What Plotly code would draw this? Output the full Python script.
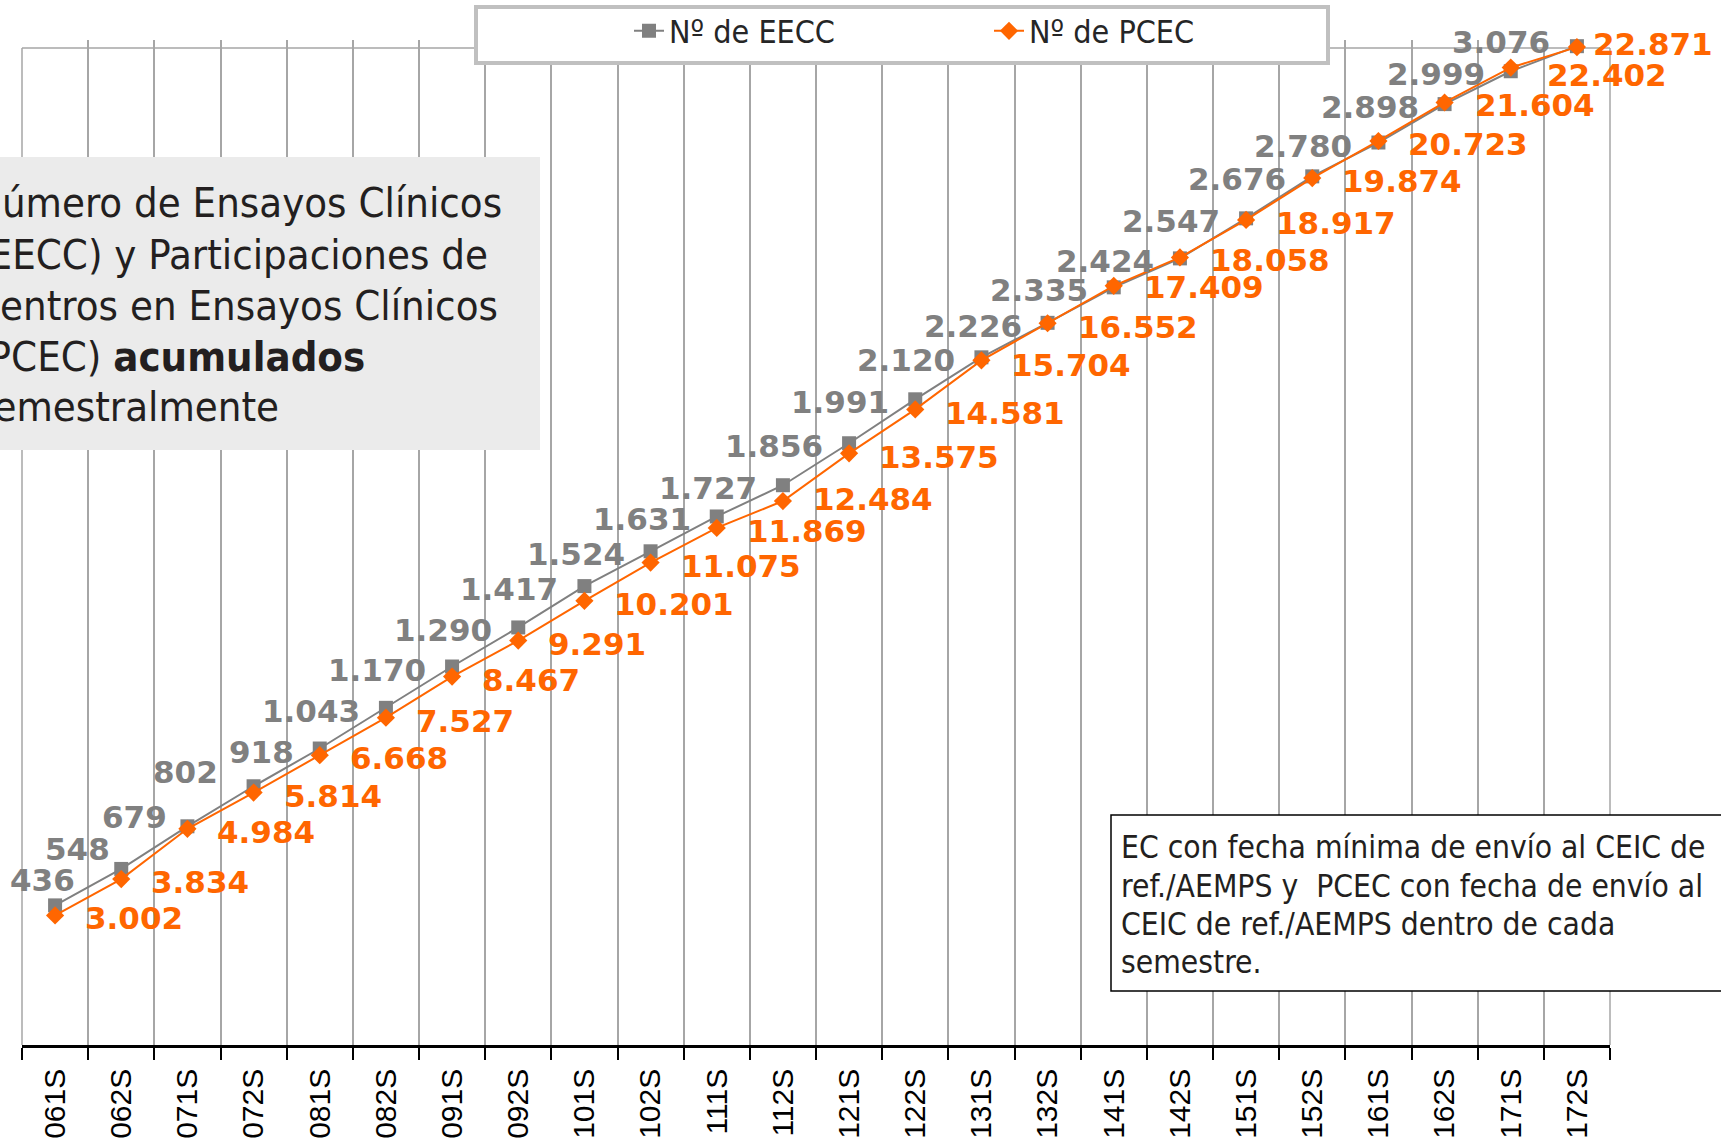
import plotly.graph_objects as go

semesters = ["061S", "062S", "071S", "072S", "081S", "082S", "091S", "092S",
             "101S", "102S", "111S", "112S", "121S", "122S", "131S", "132S",
             "141S", "142S", "151S", "152S", "161S", "162S", "171S", "172S"]
eecc = [436, 548, 679, 802, 918, 1043, 1170, 1290, 1417, 1524, 1631, 1727,
        1856, 1991, 2120, 2226, 2335, 2424, 2547, 2676, 2780, 2898, 2999, 3076]
pcec = [3002, 3834, 4984, 5814, 6668, 7527, 8467, 9291, 10201, 11075, 11869, 12484,
        13575, 14581, 15704, 16552, 17409, 18058, 18917, 19874, 20723, 21604, 22402, 22871]
title_lines = ["Número de Ensayos Clínicos", "(EECC) y Participaciones de",
               "Centros en Ensayos Clínicos", "(PCEC) <b>acumulados</b>", "semestralmente"]
note_lines = ["EC con fecha mínima de envío al CEIC de",
              "ref./AEMPS y  PCEC con fecha de envío al",
              "CEIC de ref./AEMPS dentro de cada", "semestre."]

GRAY = "#808080"
ORANGE = "#ff6600"
NARROW = "Liberation Sans Narrow, DejaVu Sans Condensed, Arial Narrow, sans-serif"
LABEL_FONT = "DejaVu Sans, Verdana, sans-serif"

W, H = 1721, 1144
ML, MR, MT, MB = 22, 111, 40, 99
PW, PH = W - ML - MR, H - MT - MB
PLOT_TOP = 48  # visible top border of the chart frame (px)


def px(xp):
    return (xp - ML) / PW


def py(yp):
    return (H - MB - yp) / PH


def fmt(v):
    return f"{v:,}".replace(",", ".")


fig = go.Figure()
fig.add_trace(go.Scatter(
    x=semesters, y=eecc, name="Nº de EECC", mode="lines+markers",
    line=dict(color=GRAY, width=2), marker=dict(symbol="square", size=14, color=GRAY),
    yaxis="y", cliponaxis=False, hoverinfo="x+y"))
fig.add_trace(go.Scatter(
    x=semesters, y=pcec, name="Nº de PCEC", mode="lines+markers",
    line=dict(color=ORANGE, width=2), marker=dict(symbol="diamond", size=14, color=ORANGE),
    yaxis="y2", cliponaxis=False, hoverinfo="x+y"))

# label placement tweaks (pixel shifts) for crowded points
gray_adj = {0: (22, 25), 1: (-9, 20), 2: (-18, 9), 3: (-34, 14), 23: (-25, 4)}
orange_adj = {11: (28, 2), 12: (28, -4), 13: (28, -4), 14: (28, -5), 15: (28, -4),
              16: (28, -1), 22: (34, -7), 23: (14, 3)}

annotations = []
for i, (c, v) in enumerate(zip(semesters, eecc)):
    dx, dy = gray_adj.get(i, (-24, -3))
    annotations.append(dict(x=c, y=v, xref="x", yref="y", text=fmt(v), showarrow=False,
                            xanchor="right", yanchor="middle", xshift=dx, yshift=dy,
                            font=dict(family=LABEL_FONT, size=31, color=GRAY, weight="bold")))
for i, (c, v) in enumerate(zip(semesters, pcec)):
    dx, dy = orange_adj.get(i, (28, -3))
    annotations.append(dict(x=c, y=v, xref="x", yref="y2", text=fmt(v), showarrow=False,
                            xanchor="left", yanchor="middle", xshift=dx, yshift=dy,
                            font=dict(family=LABEL_FONT, size=31, color=ORANGE, weight="bold")))

title_y = [203, 254, 305, 356, 407]
for line, yy in zip(title_lines, title_y):
    annotations.append(dict(
        xref="paper", yref="paper", x=px(-28), y=py(yy), xanchor="left", yanchor="middle",
        align="left", showarrow=False, text=line,
        font=dict(family=NARROW, size=41.5, color="#231f20")))

note_y = [847, 886, 924, 962]
for line, yy in zip(note_lines, note_y):
    annotations.append(dict(
        xref="paper", yref="paper", x=px(1119), y=py(yy), xanchor="left", yanchor="middle",
        align="left", showarrow=False, text=line,
        font=dict(family=NARROW, size=31.5, color="#231f20")))

shapes = [
    # hide gridline stubs above the chart frame, keep traces on top
    dict(type="rect", xref="x domain", yref="paper", x0=-0.01, x1=1.01, y0=py(PLOT_TOP), y1=1.0,
         line=dict(width=0), fillcolor="white", layer="between"),
    dict(type="line", xref="x domain", yref="paper", x0=0, x1=1, y0=py(PLOT_TOP), y1=py(PLOT_TOP),
         line=dict(color="#a6a6a6", width=1.5), layer="between"),
    dict(type="line", xref="x domain", yref="paper", x0=0, x1=0, y0=0, y1=py(PLOT_TOP),
         line=dict(color="#a6a6a6", width=1.5), layer="between"),
    dict(type="line", xref="x domain", yref="paper", x0=1, x1=1, y0=0, y1=py(PLOT_TOP),
         line=dict(color="#a6a6a6", width=1.5), layer="between"),
    # legend frame
    dict(type="rect", xref="paper", yref="paper", x0=px(476), x1=px(1328), y0=py(63), y1=py(7),
         line=dict(color="#c0c0c0", width=4), fillcolor="white", layer="above"),
    # title box
    dict(type="rect", xref="paper", yref="paper", x0=px(-5), x1=px(540), y0=py(450), y1=py(157),
         line=dict(width=0), fillcolor="#ebebeb", layer="above"),
    # note box
    dict(type="rect", xref="paper", yref="paper", x0=px(1111), x1=px(1730), y0=py(991), y1=py(815),
         line=dict(color="black", width=1.5), fillcolor="white", layer="above"),
]

boundaries = [i - 0.5 for i in range(len(semesters) + 1)]

fig.update_layout(
    width=W, height=H, margin=dict(l=ML, r=MR, t=MT, b=MB, autoexpand=False),
    paper_bgcolor="white", plot_bgcolor="white",
    showlegend=True,
    legend=dict(orientation="h", x=px(629), y=py(31), xanchor="left", yanchor="middle",
                bgcolor="rgba(0,0,0,0)", borderwidth=0,
                font=dict(family=NARROW, size=32, color="#262626"),
                entrywidth=315, entrywidthmode="pixels", itemsizing="trace"),
    xaxis=dict(type="category", categoryorder="array", categoryarray=semesters,
               range=[-0.5, len(semesters) - 0.5], tickson="boundaries",
               showgrid=True, gridcolor="#a6a6a6", gridwidth=1.5,
               showline=True, linecolor="black", linewidth=2.5,
               ticks="outside", ticklen=12, tickwidth=2, tickcolor="black",
               tickangle=-90, ticklabelstandoff=9, automargin=False,
               tickfont=dict(family="Liberation Sans, Arial, sans-serif", size=30, color="black"),
               zeroline=False),
    # companion axis: the upper half of the tick marks that cross the category axis
    xaxis2=dict(overlaying="x", anchor="y", side="bottom", range=[-0.5, len(semesters) - 0.5],
                tickmode="array", tickvals=boundaries, ticks="inside", ticklen=9,
                tickwidth=2, tickcolor="black", showticklabels=False, showgrid=False,
                zeroline=False, showline=False, automargin=False),
    yaxis=dict(range=[7, 3095], showgrid=False, showticklabels=False, zeroline=False,
               showline=False, ticks="", automargin=False),
    yaxis2=dict(range=[37, 23034], overlaying="y", side="right", showgrid=False,
                showticklabels=False, zeroline=False, showline=False, ticks="", automargin=False),
    annotations=annotations, shapes=shapes,
)

fig.write_html("out.html", config={"displayModeBar": False},
               post_script="document.body.style.margin='0';document.body.style.overflow='hidden';")
